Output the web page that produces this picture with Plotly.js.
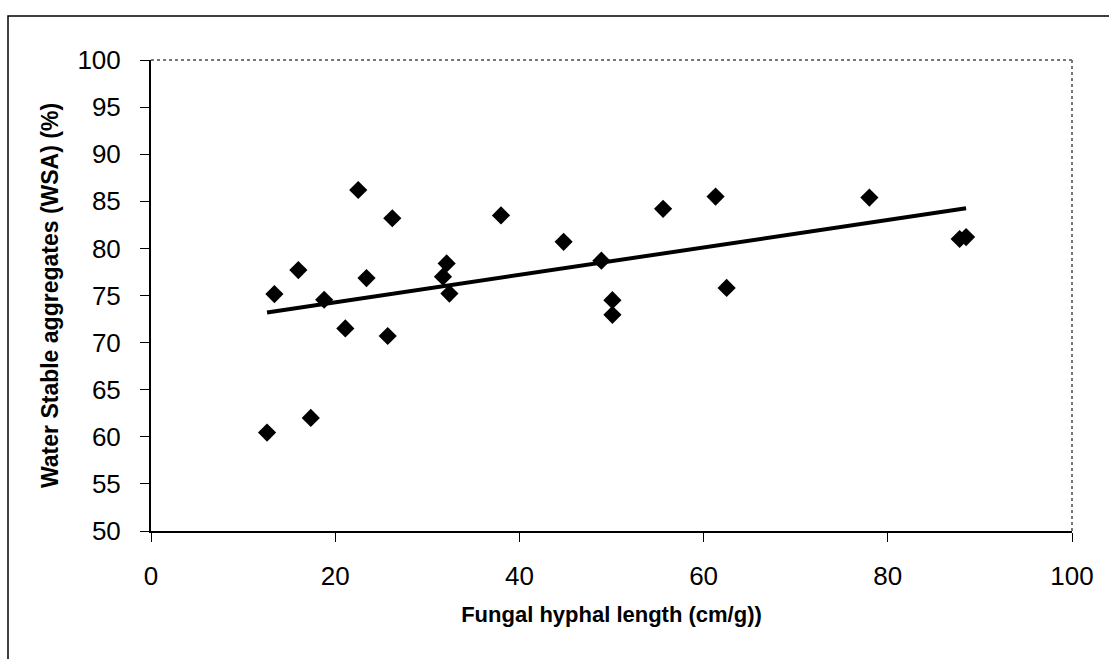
<!DOCTYPE html>
<html>
<head>
<meta charset="utf-8">
<script src="https://cdn.plot.ly/plotly-3.0.1.min.js"></script>
<style>html,body{margin:0;padding:0;background:#fff;}#chart{width:1109px;height:659px;}</style>
</head>
<body>
<div id="chart"></div>
<script>
// Fungal hyphal length (cm/g)
const hyphalLength = [12.6, 13.4, 16.0, 17.35, 18.8, 21.1, 22.5, 23.4, 25.7, 26.2, 31.7, 32.1, 32.4, 38.0, 44.8, 48.9, 50.1, 50.1, 55.6, 61.3, 62.5, 78.0, 87.8, 88.5];
// Water stable aggregates (%)
const wsa = [60.45, 75.15, 77.7, 62.0, 74.55, 71.5, 86.2, 76.85, 70.7, 83.2, 77.0, 78.4, 75.2, 83.5, 80.7, 78.7, 74.5, 72.95, 84.2, 85.5, 75.8, 85.4, 81.0, 81.2];
const xTickVals = [0, 20, 40, 60, 80, 100];
const yTickVals = [50, 55, 60, 65, 70, 75, 80, 85, 90, 95, 100];

// linear least-squares trendline (as in the original spreadsheet chart)
const n = hyphalLength.length;
const mx = hyphalLength.reduce((a, b) => a + b, 0) / n;
const my = wsa.reduce((a, b) => a + b, 0) / n;
let sxy = 0, sxx = 0;
for (let i = 0; i < n; i++) { sxy += (hyphalLength[i] - mx) * (wsa[i] - my); sxx += (hyphalLength[i] - mx) ** 2; }
const slope = sxy / sxx, intercept = my - slope * mx;
const xMin = Math.min(...hyphalLength), xMax = Math.max(...hyphalLength);
const trendX = [xMin, xMax];
const trendY = trendX.map(v => intercept + slope * v);

const font = 'Arial, "Liberation Sans", sans-serif';
const data = [
  {x: hyphalLength, y: wsa, type: 'scatter', mode: 'markers',
   marker: {symbol: 'diamond', size: 14, color: '#000'}, hoverinfo: 'x+y'},
  {x: trendX, y: trendY, type: 'scatter', mode: 'lines',
   line: {color: '#000', width: 4}, hoverinfo: 'skip'}
];
const layout = {
  width: 1109, height: 659,
  margin: {l: 151, r: 37, t: 60, b: 128},
  paper_bgcolor: '#fff', plot_bgcolor: '#fff',
  showlegend: false,
  font: {family: font, color: '#000'},
  xaxis: {
    range: [0, 100], tickvals: xTickVals, ticks: 'outside', ticklen: 9, tickwidth: 1, tickcolor: '#000',
    showgrid: false, zeroline: false, showline: true, linecolor: '#000', linewidth: 2,
    tickfont: {size: 26, family: font}, ticklabelstandoff: 12,
    title: {text: '<b>Fungal hyphal length (cm/g))</b>', font: {size: 22, family: font}, standoff: 16}
  },
  yaxis: {
    range: [50, 100], tickvals: yTickVals, ticks: 'outside', ticklen: 9, tickwidth: 1, tickcolor: '#000',
    showgrid: false, zeroline: false, showline: true, linecolor: '#000', linewidth: 2,
    tickfont: {size: 26, family: font}, ticklabelstandoff: 14,
    title: {text: '<b>Water Stable aggregates (WSA) (%)</b>', font: {size: 23, family: font}, standoff: 12}
  },
  shapes: [
    {type: 'line', xref: 'paper', yref: 'paper', x0: 0, x1: 1, y0: 1, y1: 1, line: {color: '#777', width: 2, dash: 'dot'}},
    {type: 'line', xref: 'paper', yref: 'paper', x0: 1, x1: 1, y0: 0, y1: 1, line: {color: '#777', width: 2, dash: 'dot'}},
    {type: 'rect', xref: 'paper', yref: 'paper', x0: -143/921, x1: 1110/921 - 151/921, y0: 1 + 44/471, y1: -200/471, line: {color: '#000', width: 1.5}, layer: 'below'}
  ]
};
Plotly.newPlot('chart', data, layout, {displayModeBar: false, staticPlot: true});
</script>
</body>
</html>
